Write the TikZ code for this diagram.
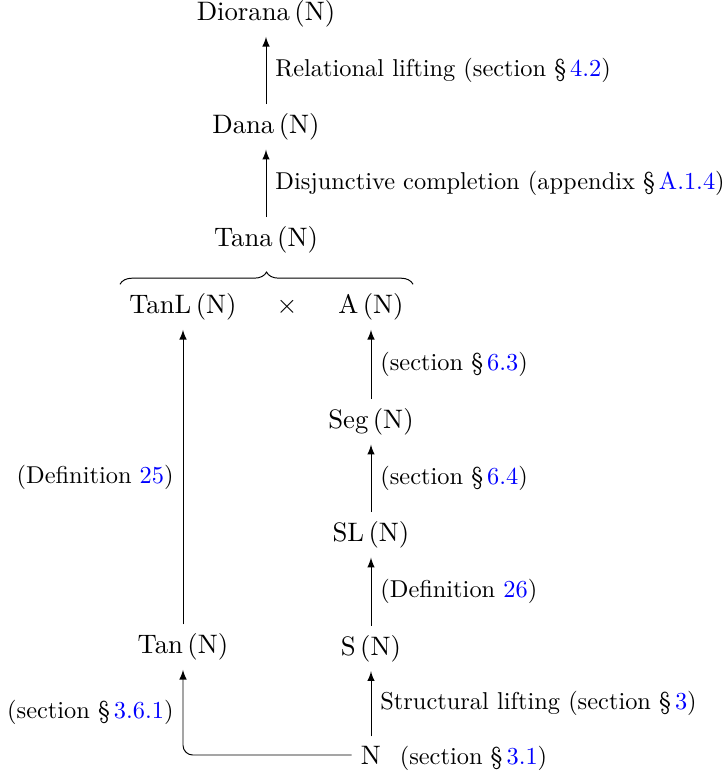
\documentclass[tikz,border=0pt,11pt]{standalone}
\usepackage{amsmath}
\usepackage{xcolor}
\usepackage{tikz}
\usetikzlibrary{
        arrows,
        decorations.pathreplacing,
        positioning
    }
\tikzset{>=latex,auto,node distance=46.3pt}
\newcommand{\lnk}[1]{\textcolor{blue}{#1}}

\begin{document}
\begin{tikzpicture}[x=0.41pt,y=-0.41pt,>=latex,auto,node distance=46.3pt,
                    lbl/.style={font=\small}]
                    \useasboundingbox (0,0) rectangle (726,775);
                    \node (dio)                    at (266,14)  {Diorana\,(N)};
                    \node (dana)  [below of=dio]                {Dana\,(N)};
                    \node (tana)  [below of=dana]               {Tana\,(N)};
                    \node (tanl)                   at (183,307) {TanL\,(N)};
                    \node (times)                  at (287,307) {$\times$};
                    \node (a)                      at (371,307) {A\,(N)};
                    \node (seg)   [below of=a,node distance=47.1pt]  {Seg\,(N)};
                    \node (sl)    [below of=seg]                     {SL\,(N)};
                    \node (s)     [below of=sl,node distance=46.6pt] {S\,(N)};
                    \node (tan)                    at (183,647) {Tan\,(N)};
                    \node (n)                      at (371,755) {N};
                    \node[lbl] (nref) [base right=0pt of n]     {(section \S\,\lnk{3.1})};
                    \draw[decorate,decoration={brace,amplitude=5pt}]
                        (tanl.north west) -- (a.north east);
                    \path[->]
                        (dana) edge node[lbl,swap] {Relational lifting (section \S\,\lnk{4.2})} (dio)
                        (tana) edge node[lbl,swap] {Disjunctive completion (appendix \S\,\lnk{A.1.4})} (dana)
                        (seg)  edge node[lbl,swap] {(section \S\,\lnk{6.3})} (a)
                        (sl)   edge node[lbl,swap] {(section \S\,\lnk{6.4})} (seg)
                        (s)    edge node[lbl,swap] {(Definition \lnk{26})} (sl)
                        (n)    edge node[lbl,swap] {Structural lifting (section \S\,\lnk{3})} (s)
                        (tan)  edge node[lbl]      {(Definition \lnk{25})} (tanl)
                    ;
                    \draw[->,rounded corners=4pt]
                        (n) -| node[lbl,pos=0.75,left] {(section \S\,\lnk{3.6.1})} (tan);
                \end{tikzpicture}
\end{document}
